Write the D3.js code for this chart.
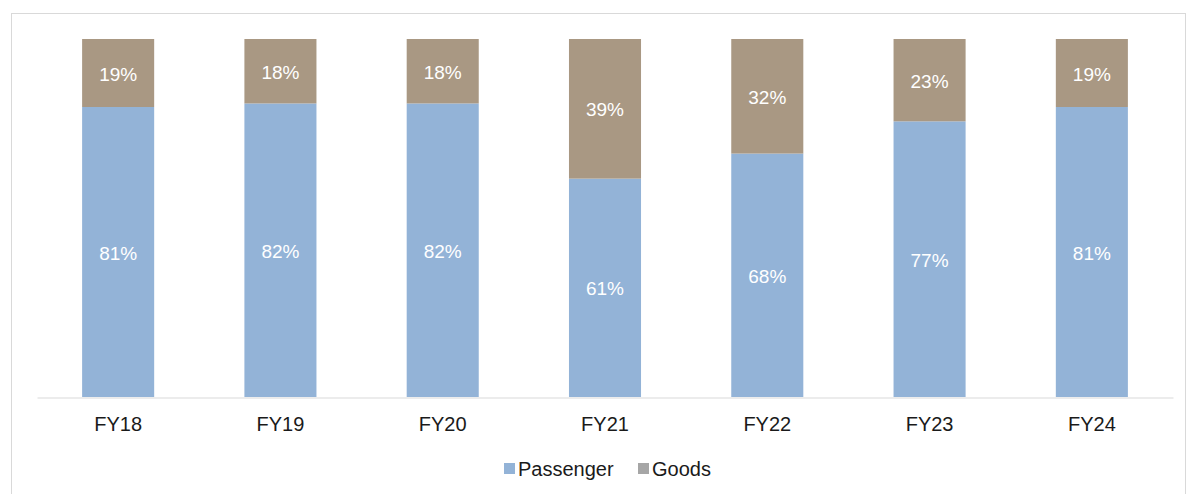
<!DOCTYPE html>
<html>
<head>
<meta charset="utf-8">
<script src="https://cdn.jsdelivr.net/npm/d3@7"></script>
<style>
  body { margin: 0; background: #fff; }
  svg { display: block; font-family: "Liberation Sans", Arial, sans-serif; }
</style>
</head>
<body>
<div id="chart"></div>
<script>
// data
const years = ["FY18", "FY19", "FY20", "FY21", "FY22", "FY23", "FY24"];
const passenger = [81, 82, 82, 61, 68, 77, 81];
const goods = [19, 18, 18, 39, 32, 23, 19];
const seriesNames = ["Passenger", "Goods"];
const seriesColors = ["#93b3d7", "#a99883"];
const legendColors = ["#93b3d7", "#a6a6a6"];

const WIDTH = 1194, HEIGHT = 494;

const svg = d3.select("#chart").append("svg")
    .attr("width", WIDTH)
    .attr("height", HEIGHT);

// outer frame
svg.append("rect")
    .attr("x", 11.5).attr("y", 13.5)
    .attr("width", 1174).attr("height", 500)
    .attr("fill", "none")
    .attr("stroke", "#d9d9d9");

let xScale = d3.scaleBand().domain(years).range([37, 1173])
    .paddingInner(0.556).paddingOuter(0.278);
let yScale = d3.scaleLinear().domain([0, 100]).range([397, 39]);

const rows = years.map((y, i) => ({ year: y, Passenger: passenger[i], Goods: goods[i] }));
const stacked = d3.stack().keys(seriesNames)(rows);

// bars + labels
stacked.forEach((layer, k) => {
    svg.append("g").selectAll("rect")
        .data(layer)
        .enter()
        .append("rect")
        .attr("x", d => xScale(d.data.year))
        .attr("width", xScale.bandwidth())
        .attr("y", d => yScale(d[1]))
        .attr("height", d => yScale(d[0]) - yScale(d[1]))
        .attr("fill", seriesColors[k]);

    svg.append("g").selectAll("text")
        .data(layer)
        .enter()
        .append("text")
        .attr("x", d => xScale(d.data.year) + xScale.bandwidth() / 2)
        .attr("y", d => (yScale(d[0]) + yScale(d[1])) / 2 + 1)
        .attr("dy", "0.35em")
        .attr("text-anchor", "middle")
        .attr("fill", "#fff")
        .style("font-size", "19px")
        .text(d => (d[1] - d[0]) + "%");
});

// x axis
const xAxis = svg.append("g")
    .attr("transform", "translate(0, 397.5)")
    .call(d3.axisBottom(xScale).tickSize(0).tickPadding(19).tickSizeOuter(0));
xAxis.select(".domain").attr("stroke", "#d9d9d9");
xAxis.selectAll("text")
    .style("font-size", "20px")
    .style("font-family", "'Liberation Sans', Arial, sans-serif")
    .attr("fill", "#1a1a1a");

// legend
const legend = svg.append("g").attr("transform", "translate(504, 469)");
const legendX = [0, 134];
seriesNames.forEach((name, i) => {
    const g = legend.append("g").attr("transform", `translate(${legendX[i]}, 0)`);
    g.append("rect")
        .attr("x", 0).attr("y", -6)
        .attr("width", 11).attr("height", 11)
        .attr("fill", legendColors[i]);
    g.append("text")
        .attr("x", 14).attr("y", 0)
        .attr("dy", "0.35em")
        .attr("fill", "#1a1a1a")
        .style("font-size", "20px")
        .text(name);
});
</script>
</body>
</html>
